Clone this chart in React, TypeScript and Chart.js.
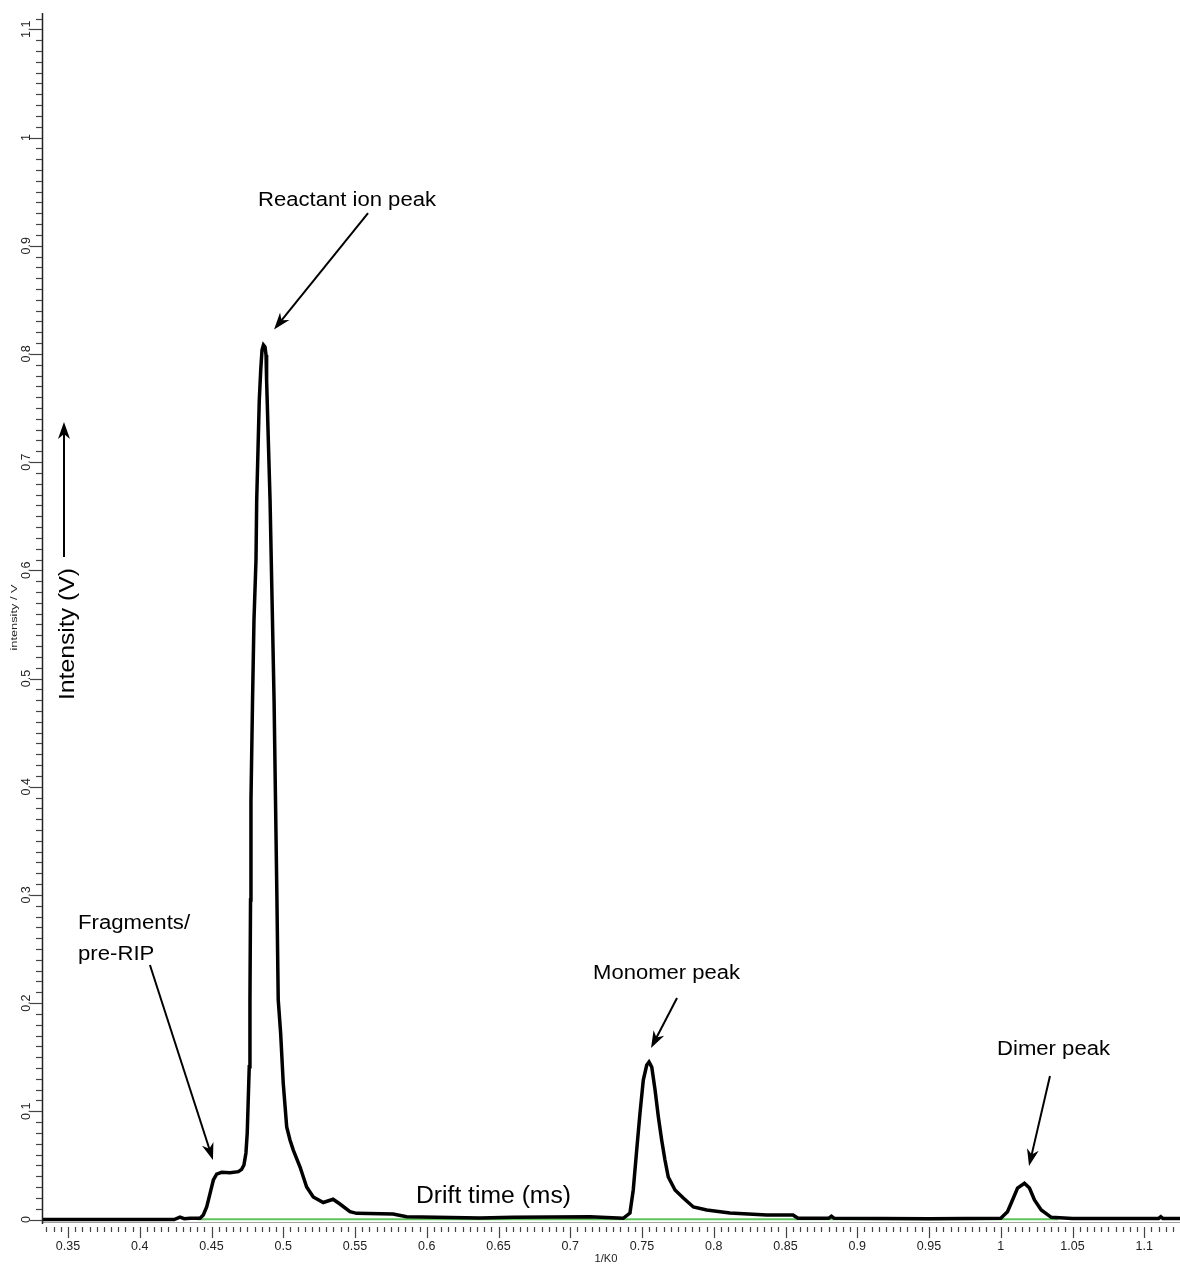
import React, { useEffect, useRef } from 'react';
import { Chart, registerables } from 'chart.js';

Chart.register(...registerables);

// Drift-time spectrum (1/K0) and intensity in V
const driftX = [
  0.3319, 0.36, 0.40, 0.424, 0.428, 0.431, 0.435, 0.442, 0.4443, 0.4467,
  0.449, 0.4513, 0.4536, 0.4571, 0.4629, 0.4687, 0.471, 0.4726, 0.474, 0.4749,
  0.4756, 0.4763, 0.4768, 0.4772, 0.4775, 0.4786, 0.4796, 0.481, 0.4815, 0.4824,
  0.4833, 0.4843, 0.4852, 0.4862, 0.4873, 0.488, 0.4884, 0.489, 0.4896, 0.4908,
  0.4922, 0.4936, 0.4946, 0.4956, 0.4965, 0.4982, 0.5, 0.5024, 0.5047, 0.507,
  0.5117, 0.5163, 0.5209, 0.5279, 0.5347, 0.5395, 0.5465, 0.5512, 0.5765, 0.586,
  0.6371, 0.66, 0.7138, 0.7369, 0.7416, 0.7439, 0.7463, 0.7486, 0.7509, 0.7533,
  0.7549, 0.7568, 0.7591, 0.7614, 0.7637, 0.766, 0.7683, 0.773, 0.7788, 0.7858,
  0.7951, 0.8113, 0.8369, 0.8552, 0.8587, 0.88, 0.882, 0.884, 0.95, 1.0,
  1.0047, 1.0082, 1.0117, 1.0165, 1.02, 1.0235, 1.0282, 1.0352, 1.05, 1.11,
  1.1115, 1.113, 1.1249,
];
const intensityY = [
  0.0, 0.0, 0.0, 0.0, 0.0022, 0.0008, 0.0012, 0.0012, 0.0042, 0.0118,
  0.0242, 0.0365, 0.042, 0.0436, 0.0433, 0.0442, 0.0464, 0.0504, 0.0615, 0.0799,
  0.1104, 0.1412, 0.2029, 0.2953, 0.3877, 0.4801, 0.554, 0.6095, 0.665, 0.7112,
  0.7574, 0.7851, 0.8036, 0.8082, 0.8064, 0.799, 0.7758, 0.7481, 0.72, 0.665,
  0.5726, 0.4801, 0.3877, 0.2953, 0.2029, 0.1719, 0.1257, 0.0855, 0.0735, 0.0642,
  0.0485, 0.030, 0.0208, 0.0157, 0.0187, 0.0143, 0.0072, 0.0057, 0.0051, 0.0026,
  0.0014, 0.0020, 0.0026, 0.0011, 0.006, 0.0273, 0.0642, 0.0984, 0.1289, 0.1428,
  0.1456, 0.1409, 0.1197, 0.0947, 0.0735, 0.055, 0.0393, 0.0273, 0.0199, 0.0116,
  0.0088, 0.006, 0.0042, 0.0042, 0.0011, 0.0011, 0.003, 0.0011, 0.0008, 0.0011,
  0.0072, 0.018, 0.0291, 0.0335, 0.0291, 0.018, 0.0088, 0.002, 0.001, 0.001,
  0.0025, 0.001, 0.001,
];
// green reference baseline
const baselineX = [0.44, 1.04];
const baselineY = [0.0002, 0.0002];

const xTickValues = [0.35, 0.4, 0.45, 0.5, 0.55, 0.6, 0.65, 0.7, 0.75, 0.8, 0.85, 0.9, 0.95, 1.0, 1.05, 1.1];
const xTickLabels = ['0.35', '0.4', '0.45', '0.5', '0.55', '0.6', '0.65', '0.7', '0.75', '0.8', '0.85', '0.9', '0.95', '1', '1.05', '1.1'];
const yTickValues = [0, 0.1, 0.2, 0.3, 0.4, 0.5, 0.6, 0.7, 0.8, 0.9, 1.0, 1.1];
const yTickLabels = ['0', '0.1', '0.2', '0.3', '0.4', '0.5', '0.6', '0.7', '0.8', '0.9', '1', '1.1'];

const X_MIN = 0.33188;
const X_MAX = 1.12491;
const Y_MIN = -0.0023;
const Y_MAX = 1.1151;

const FONT = '"Liberation Sans", Arial, Helvetica, sans-serif';

function stretchedText(ctx: CanvasRenderingContext2D, text: string, x: number, y: number, size: number, targetW: number | null, rotate = 0, align: CanvasTextAlign = 'left', sxOverride?: number) {
  ctx.save();
  ctx.font = `${size}px ${FONT}`;
  const w = ctx.measureText(text).width;
  const sx = sxOverride ?? (targetW ? targetW / w : 1);
  ctx.translate(x, y);
  if (rotate) ctx.rotate(rotate);
  ctx.scale(sx, 1);
  ctx.textAlign = align;
  ctx.textBaseline = 'alphabetic';
  ctx.fillText(text, 0, 0);
  ctx.restore();
  return sx;
}

function arrow(ctx: CanvasRenderingContext2D, x1: number, y1: number, x2: number, y2: number, L = 17, W = 6, lw = 2) {
  const ang = Math.atan2(y2 - y1, x2 - x1);
  const ux = Math.cos(ang), uy = Math.sin(ang);
  const nx = -uy, ny = ux;
  ctx.save();
  ctx.strokeStyle = '#000';
  ctx.fillStyle = '#000';
  ctx.lineWidth = lw;
  ctx.beginPath();
  ctx.moveTo(x1, y1);
  ctx.lineTo(x2 - ux * L * 0.6, y2 - uy * L * 0.6);
  ctx.stroke();
  ctx.beginPath();
  ctx.moveTo(x2, y2);
  ctx.lineTo(x2 - ux * L + nx * W, y2 - uy * L + ny * W);
  ctx.lineTo(x2 - ux * L * 0.7, y2 - uy * L * 0.7);
  ctx.lineTo(x2 - ux * L - nx * W, y2 - uy * L - ny * W);
  ctx.closePath();
  ctx.fill();
  ctx.restore();
}

const decorPlugin = {
  id: 'decor',
  afterDraw(chart: any) {
    const ctx: CanvasRenderingContext2D = chart.ctx;
    const xs = chart.scales.x;
    const ys = chart.scales.y;
    const area = chart.chartArea;
    const X = (v: number) => xs.getPixelForValue(v);
    const Y = (v: number) => ys.getPixelForValue(v);
    ctx.save();

    // axis lines
    ctx.strokeStyle = '#a0a0a0';
    ctx.lineWidth = 1;
    ctx.beginPath();
    ctx.moveTo(area.left, Math.round(area.bottom) + 0.5);
    ctx.lineTo(area.right, Math.round(area.bottom) + 0.5);
    ctx.stroke();
    ctx.strokeStyle = '#222';
    ctx.lineWidth = 1.5;
    ctx.beginPath();
    ctx.moveTo(area.left + 0.5, area.top);
    ctx.lineTo(area.left + 0.5, area.bottom + 2);
    ctx.stroke();

    // x ticks (minor every 0.005, major every 0.05)
    ctx.strokeStyle = '#444';
    ctx.lineWidth = 1.2;
    const base = Math.round(area.bottom);
    for (let i = Math.ceil(xs.min / 0.005); i * 0.005 <= xs.max; i++) {
      const px = Math.round(X(i * 0.005)) + 0.5;
      const major = i % 10 === 0;
      ctx.beginPath();
      ctx.moveTo(px, base + 5);
      ctx.lineTo(px, base + (major ? 16 : 10));
      ctx.stroke();
    }
    // y ticks (minor every 0.01, major every 0.1)
    for (let i = 0; i * 0.01 <= ys.max; i++) {
      const py = Math.round(Y(i * 0.01)) + 0.5;
      const major = i % 10 === 0;
      ctx.beginPath();
      ctx.moveTo(area.left, py);
      ctx.lineTo(area.left - (major ? 12 : 6), py);
      ctx.stroke();
    }

    // tick labels
    ctx.fillStyle = '#222';
    ctx.font = `12.5px ${FONT}`;
    ctx.textAlign = 'center';
    ctx.textBaseline = 'alphabetic';
    xTickValues.forEach((v, k) => {
      ctx.fillText(xTickLabels[k], X(v), base + 28);
    });
    yTickValues.forEach((v, k) => {
      ctx.save();
      ctx.translate(area.left - 12, Y(v));
      ctx.rotate(-Math.PI / 2);
      ctx.textAlign = 'center';
      ctx.fillText(yTickLabels[k], 0, 0);
      ctx.restore();
    });

    // axis titles
    ctx.fillStyle = '#222';
    stretchedText(ctx, '1/K0', (area.left + area.right) / 2 - 5, base + 40, 10, 23, 0, 'center');
    stretchedText(ctx, 'intensity / V', 17, (area.top + area.bottom) / 2, 9.5, 66, -Math.PI / 2, 'center');

    // annotations
    ctx.fillStyle = '#000';
    stretchedText(ctx, 'Reactant ion peak', X(0.4824), Y(0.9367), 20, 178);
    const sxF = stretchedText(ctx, 'Fragments/', X(0.357), Y(0.2685), 20, 112);
    stretchedText(ctx, 'pre-RIP', X(0.357), Y(0.2398), 20, null, 0, 'left', sxF);
    stretchedText(ctx, 'Monomer peak', X(0.7159), Y(0.2223), 20, 147);
    stretchedText(ctx, 'Dimer peak', X(0.9974), Y(0.152), 20, 113);
    stretchedText(ctx, 'Drift time (ms)', X(0.5925), Y(0.0152), 23, 155);
    stretchedText(ctx, 'Intensity (V)', X(0.3542), Y(0.5411), 22, 132, -Math.PI / 2, 'center');

    arrow(ctx, X(0.5591), Y(0.9302), X(0.4936), Y(0.8225));
    arrow(ctx, X(0.4071), Y(0.2352), X(0.451), Y(0.055));
    arrow(ctx, X(0.7744), Y(0.2047), X(0.7563), Y(0.1585));
    arrow(ctx, X(1.0343), Y(0.1326), X(1.0197), Y(0.0494));
    arrow(ctx, X(0.3472), Y(0.6123), X(0.3472), Y(0.7371));

    ctx.restore();
  },
};

export default function App() {
  const canvasRef = useRef<HTMLCanvasElement | null>(null);

  useEffect(() => {
    if (!canvasRef.current) return;
    const chart = new Chart(canvasRef.current, {
      type: 'line',
      data: {
        datasets: [
          {
            data: driftX.map((x, i) => ({ x, y: intensityY[i] })),
            borderColor: '#000',
            borderWidth: 3.5,
            pointRadius: 0,
            tension: 0,
            fill: false,
          },
          {
            data: baselineX.map((x, i) => ({ x, y: baselineY[i] })),
            borderColor: '#5cc45a',
            borderWidth: 2,
            pointRadius: 0,
            fill: false,
          },
        ],
      },
      options: {
        responsive: false,
        animation: false,
        devicePixelRatio: 1,
        layout: { padding: { top: 13, left: 0, right: 0, bottom: 0 } },
        plugins: { legend: { display: false }, tooltip: { enabled: false } },
        scales: {
          x: {
            type: 'linear',
            min: X_MIN,
            max: X_MAX,
            ticks: { display: false },
            grid: { display: false, drawTicks: false },
            border: { display: false },
            afterFit: (s: any) => { s.height = 44; },
          },
          y: {
            type: 'linear',
            min: Y_MIN,
            max: Y_MAX,
            ticks: { display: false },
            grid: { display: false, drawTicks: false },
            border: { display: false },
            afterFit: (s: any) => { s.width = 42; },
          },
        },
      },
      plugins: [decorPlugin],
    } as any);
    return () => chart.destroy();
  }, []);

  return (
    <div style={{ position: 'fixed', left: 0, top: 0, width: 1180, height: 1266, background: '#fff' }}>
      <canvas ref={canvasRef} width={1180} height={1266} style={{ display: 'block', width: 1180, height: 1266 }} />
    </div>
  );
}
